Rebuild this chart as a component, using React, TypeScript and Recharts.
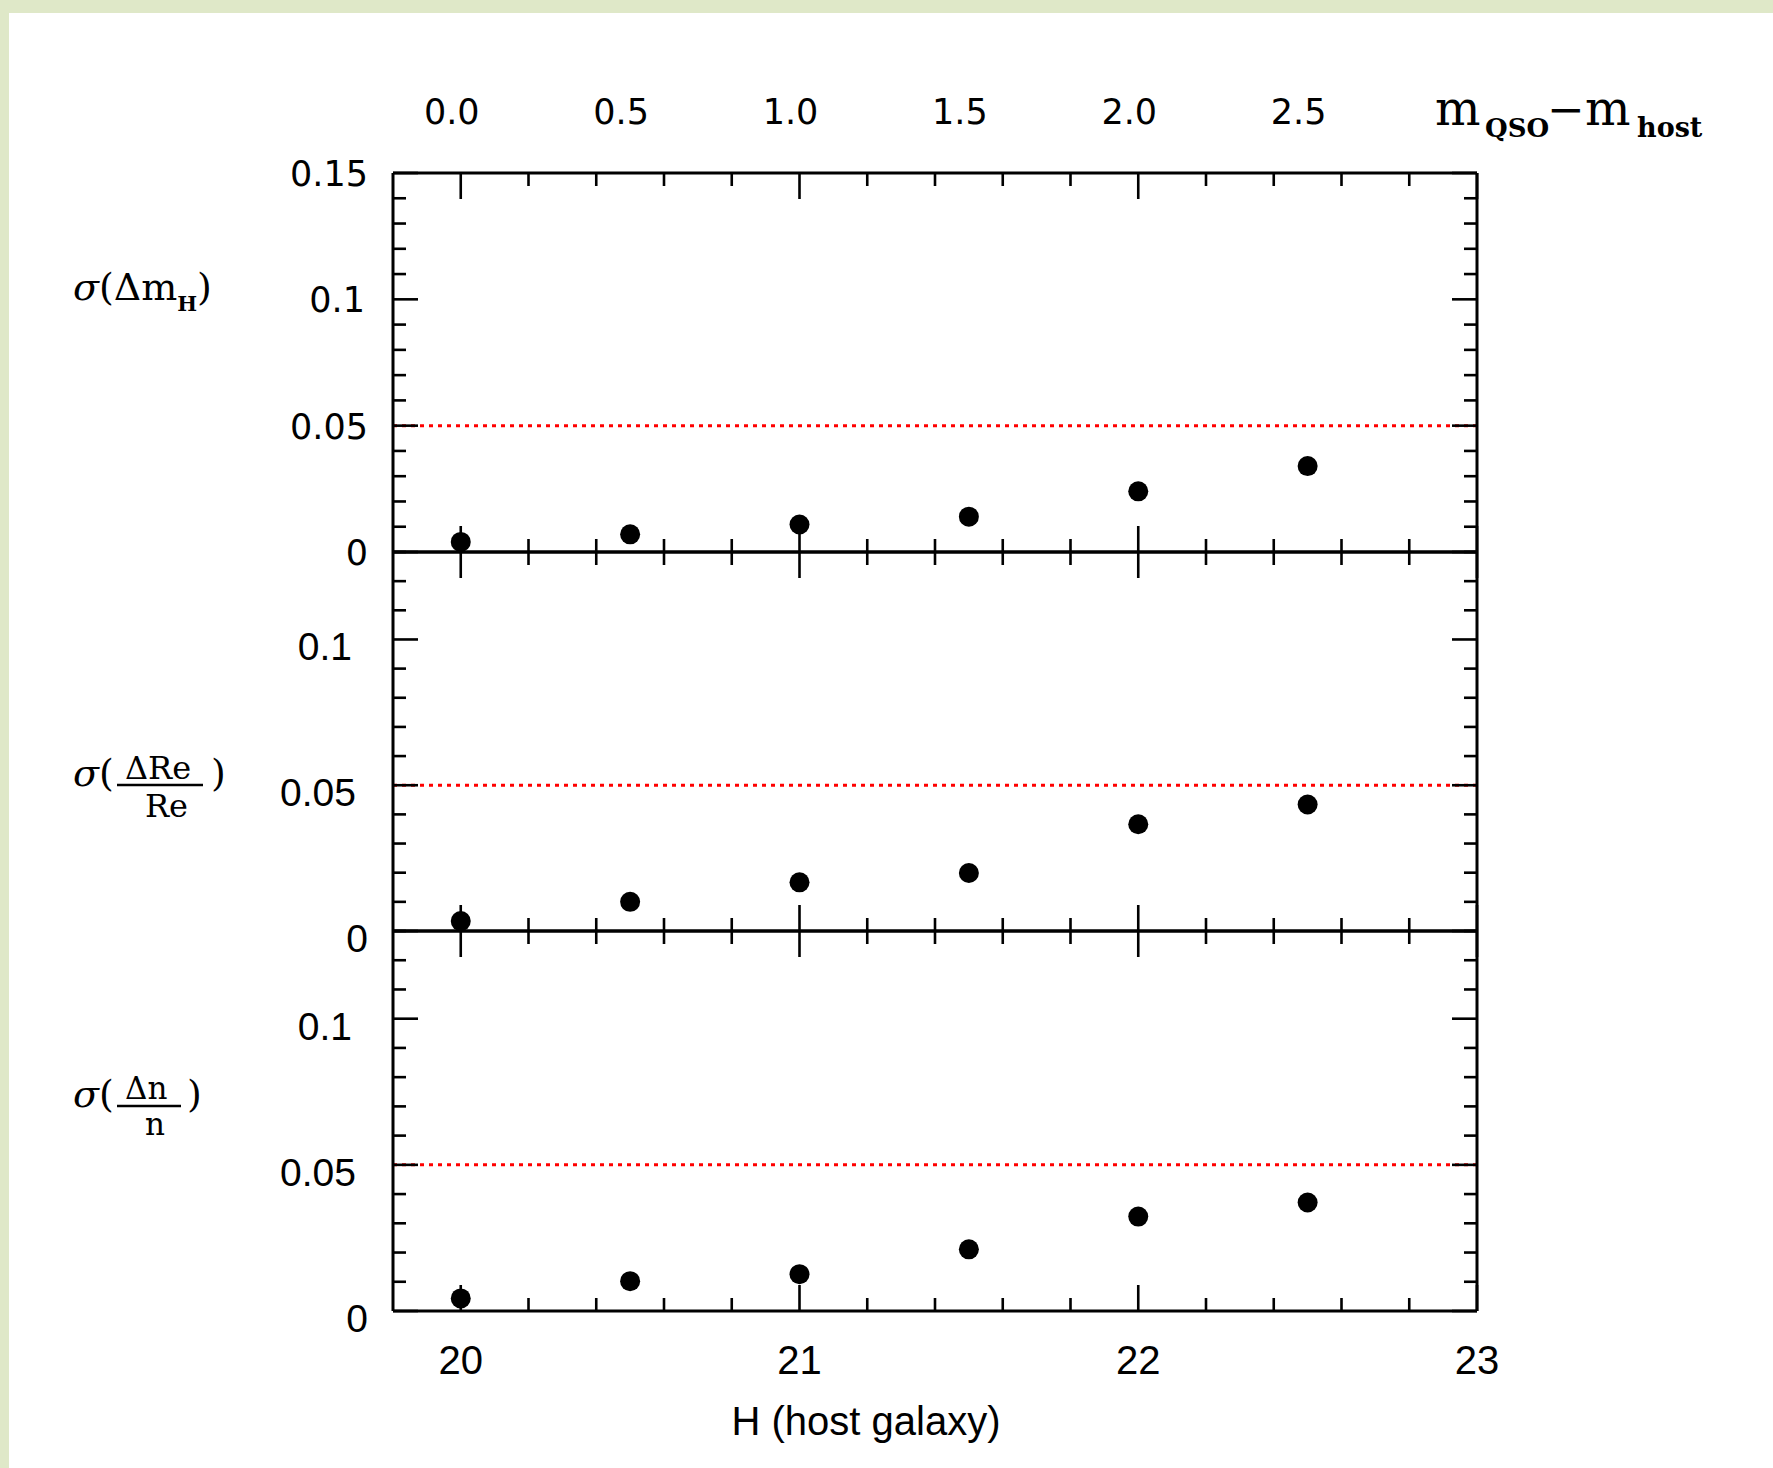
import React from 'react';
import { ScatterChart, Scatter, XAxis, YAxis, ReferenceLine } from 'recharts';

const PAGE_W = 1773;
const PAGE_H = 1468;

// ---- data ----
const hostMag = [20, 20.5, 21, 21.5, 22, 22.5];
const sigmaMagH = [0.004, 0.007, 0.0109, 0.014, 0.024, 0.034];
const sigmaReRe = [0.0034, 0.01, 0.0167, 0.0199, 0.0366, 0.0434];
const sigmaNN = [0.0043, 0.0102, 0.0126, 0.0211, 0.0323, 0.0371];

// ---- ticks ----
const xTicks = [20, 20.2, 20.4, 20.6, 20.8, 21, 21.2, 21.4, 21.6, 21.8, 22, 22.2, 22.4, 22.6, 22.8, 23];
const xMajor = [20, 21, 22, 23];
const bottomTickLabels = ['20', '21', '22', '23'];
const topTicks = [20, 20.5, 21, 21.5, 22, 22.5];
const topTickLabels = ['0.0', '0.5', '1.0', '1.5', '2.0', '2.5'];
const yTicksUpper = [0, 0.01, 0.02, 0.03, 0.04, 0.05, 0.06, 0.07, 0.08, 0.09, 0.1, 0.11, 0.12, 0.13, 0.14, 0.15];
const yTicksLower = [0, 0.01, 0.02, 0.03, 0.04, 0.05, 0.06, 0.07, 0.08, 0.09, 0.1, 0.11, 0.12, 0.13];
const yMajorUpper = [0, 0.05, 0.1, 0.15];
const yLabelsUpper = ['0', '0.05', '0.1', '0.15'];
const yMajorLower = [0, 0.05, 0.1];
const yLabelsLower = ['0', '0.05', '0.1'];
const threshold = 0.05;

const near = (a: number, b: number) => Math.abs(a - b) < 1e-9;
const idxOf = (list: number[], v: number) => list.findIndex((m) => near(m, v));

// all x positions the bottom axis has to visit (tick marks + top labels)
const xAxisPositions = Array.from(new Set([...xTicks, ...topTicks])).sort((a, b) => a - b);

const PLOT_LEFT = 393;
const PLOT_RIGHT = 1477;
const MINOR = 13;
const MAJOR = 25;
const TICK_W = 2.6;
const AX = 1; // tiny axis thickness (axes with 0 size are not drawn)

type Panel = {
  key: string;
  values: number[];
  top: number;
  bottom: number;
  yMax: number;
  yTicks: number[];
  yMajor: number[];
  yLabels: string[];
  upper: boolean;
  showTopLabels: boolean;
  showBottomLabels: boolean;
};

const panels: Panel[] = [
  { key: 'm', values: sigmaMagH, top: 173, bottom: 552, yMax: 0.15, yTicks: yTicksUpper, yMajor: yMajorUpper, yLabels: yLabelsUpper, upper: true, showTopLabels: true, showBottomLabels: false },
  { key: 're', values: sigmaReRe, top: 552, bottom: 931, yMax: 0.13, yTicks: yTicksLower, yMajor: yMajorLower, yLabels: yLabelsLower, upper: false, showTopLabels: false, showBottomLabels: false },
  { key: 'n', values: sigmaNN, top: 931, bottom: 1311, yMax: 0.13, yTicks: yTicksLower, yMajor: yMajorLower, yLabels: yLabelsLower, upper: false, showTopLabels: false, showBottomLabels: true },
];

const lowerLabelRight: Record<string, number> = { '0': 368, '0.05': 356, '0.1': 352 };

// bottom axis tick: draws the inward tick on the bottom frame and the
// matching inward tick on the top frame (same x from the axis scale)
const makeXTick = (p: Panel) => (props: any) => {
  const { x, y, payload } = props;
  const v = payload.value;
  const isTick = idxOf(xTicks, v) >= 0;
  const mi = idxOf(xMajor, v);
  const ti = idxOf(topTicks, v);
  const len = mi >= 0 ? MAJOR + 1 : MINOR;
  const topY = p.top;
  return (
    <g>
      {isTick && <line x1={x} x2={x} y1={y} y2={y - len} stroke="#000" strokeWidth={TICK_W} />}
      {isTick && <line x1={x} x2={x} y1={topY} y2={topY + len} stroke="#000" strokeWidth={TICK_W} />}
      {p.showBottomLabels && mi >= 0 && (
        <text x={x} y={y + 63} textAnchor="middle" fontFamily="'Liberation Sans', Arial, sans-serif" fontSize={40} fill="#000">
          {bottomTickLabels[mi]}
        </text>
      )}
      {p.showTopLabels && ti >= 0 && (
        <text x={x - 9} y={topY - 49} textAnchor="middle" fontFamily="'DejaVu Sans', sans-serif" fontSize={35} fill="#000">
          {topTickLabels[ti]}
        </text>
      )}
    </g>
  );
};

const makeYTick = (p: Panel, dir: number, showLabels: boolean) => (props: any) => {
  const { x, y, payload } = props;
  const v = payload.value;
  const mi = idxOf(p.yMajor, v);
  const len = mi >= 0 ? MAJOR : MINOR;
  let label: React.ReactNode = null;
  if (showLabels && mi >= 0) {
    const txt = p.yLabels[mi];
    if (p.upper) {
      label = (
        <text x={txt === '0.1' ? 365 : 368} y={y + 13} textAnchor="end" fontFamily="'DejaVu Sans', sans-serif" fontSize={35} fill="#000">
          {txt}
        </text>
      );
    } else {
      label = (
        <text x={lowerLabelRight[txt]} y={y + 21} textAnchor="end" fontFamily="'Liberation Sans', Arial, sans-serif" fontSize={39} fill="#000">
          {txt}
        </text>
      );
    }
  }
  return (
    <g>
      <line x1={x} x2={x + dir * len} y1={y} y2={y} stroke="#000" strokeWidth={TICK_W} />
      {label}
    </g>
  );
};

const Dot = (props: any) => <circle cx={props.cx} cy={props.cy} r={10} fill="#000" />;

const axisLine = { stroke: '#000', strokeWidth: 3 };

function PanelChart({ p }: { p: Panel }) {
  const data = hostMag.map((x, i) => ({ x, y: p.values[i] }));
  return (
    <div style={{ position: 'absolute', left: 0, top: 0 }}>
      <ScatterChart
        width={PAGE_W}
        height={PAGE_H}
        margin={{
          top: p.top,
          bottom: PAGE_H - p.bottom - AX,
          left: PLOT_LEFT - AX,
          right: PAGE_W - PLOT_RIGHT - AX,
        }}
      >
        <XAxis xAxisId="b" dataKey="x" type="number" orientation="bottom" domain={[19.8, 23]} allowDataOverflow ticks={xAxisPositions} interval={0} height={AX} tickSize={0} tickMargin={0} axisLine={axisLine} tickLine={false} tick={makeXTick(p)} />
        <YAxis yAxisId="l" dataKey="y" type="number" orientation="left" domain={[0, p.yMax]} allowDataOverflow ticks={p.yTicks} interval={0} width={AX} tickSize={0} tickMargin={0} axisLine={axisLine} tickLine={false} tick={makeYTick(p, 1, true)} />
        <YAxis yAxisId="r" type="number" orientation="right" domain={[0, p.yMax]} allowDataOverflow ticks={p.yTicks} interval={0} width={AX} tickSize={0} tickMargin={0} axisLine={axisLine} tickLine={false} tick={makeYTick(p, -1, false)} />
        {/* top frame of the panel */}
        <ReferenceLine xAxisId="b" yAxisId="l" y={p.yMax} stroke="#000" strokeWidth={3} />
        <ReferenceLine xAxisId="b" yAxisId="l" y={threshold} stroke="#ff0000" strokeWidth={3} strokeDasharray="4 5" />
        <Scatter xAxisId="b" yAxisId="l" data={data} fill="#000" shape={Dot} isAnimationActive={false} />
      </ScatterChart>
    </div>
  );
}

const serif = "'DejaVu Serif', serif";

function Overlay() {
  return (
    <svg width={PAGE_W} height={PAGE_H} style={{ position: 'absolute', left: 0, top: 0, pointerEvents: 'none' }}>
      {/* top axis title */}
      <text y={125} fontFamily={serif} fontSize={48} fill="#000">
        <tspan x={1435}>m</tspan>
        <tspan x={1485} y={137} fontSize={26} fontWeight="bold">QSO</tspan>
        <tspan x={1547} y={125} fontSize={45}>−</tspan>
        <tspan x={1585} y={125}>m</tspan>
        <tspan x={1637} y={137} fontSize={27} fontWeight="bold">host</tspan>
      </text>

      {/* panel 1 label: sigma(Delta m_H) */}
      <text x={73} y={300} fontFamily={serif} fontSize={38} fill="#000">
        <tspan fontStyle="italic">σ</tspan>
        <tspan>(Δm</tspan>
        <tspan fontSize={21} fontWeight="bold" dy={11}>H</tspan>
        <tspan dy={-11}>)</tspan>
      </text>

      {/* panel 2 label: sigma(Delta Re / Re) */}
      <text fontFamily={serif} fontSize={38} fill="#000">
        <tspan x={73} y={786} fontStyle="italic">σ</tspan>
        <tspan>(</tspan>
        <tspan x={125} y={779} fontSize={32}>ΔRe</tspan>
        <tspan x={145} y={817} fontSize={32}>Re</tspan>
        <tspan x={211} y={786}>)</tspan>
      </text>
      <line x1={117} x2={203} y1={785} y2={785} stroke="#000" strokeWidth={2.5} />

      {/* panel 3 label: sigma(Delta n / n) */}
      <text fontFamily={serif} fontSize={38} fill="#000">
        <tspan x={73} y={1107} fontStyle="italic">σ</tspan>
        <tspan>(</tspan>
        <tspan x={125} y={1099} fontSize={31}>Δn</tspan>
        <tspan x={145} y={1135} fontSize={31}>n</tspan>
        <tspan x={187} y={1107}>)</tspan>
      </text>
      <line x1={117} x2={181} y1={1106} y2={1106} stroke="#000" strokeWidth={2.5} />

      {/* bottom axis title */}
      <text x={866} y={1435} textAnchor="middle" fontFamily="'Liberation Sans', Arial, sans-serif" fontSize={40} fill="#000">
        H (host galaxy)
      </text>
    </svg>
  );
}

export default function App() {
  return (
    <div style={{ position: 'absolute', left: 0, top: 0, width: PAGE_W, height: PAGE_H, background: '#dfe8c8', overflow: 'hidden' }}>
      <div style={{ position: 'absolute', left: 9, top: 13, right: 0, bottom: 0, background: '#ffffff' }} />
      {panels.map((p) => (
        <PanelChart key={p.key} p={p} />
      ))}
      <Overlay />
    </div>
  );
}
